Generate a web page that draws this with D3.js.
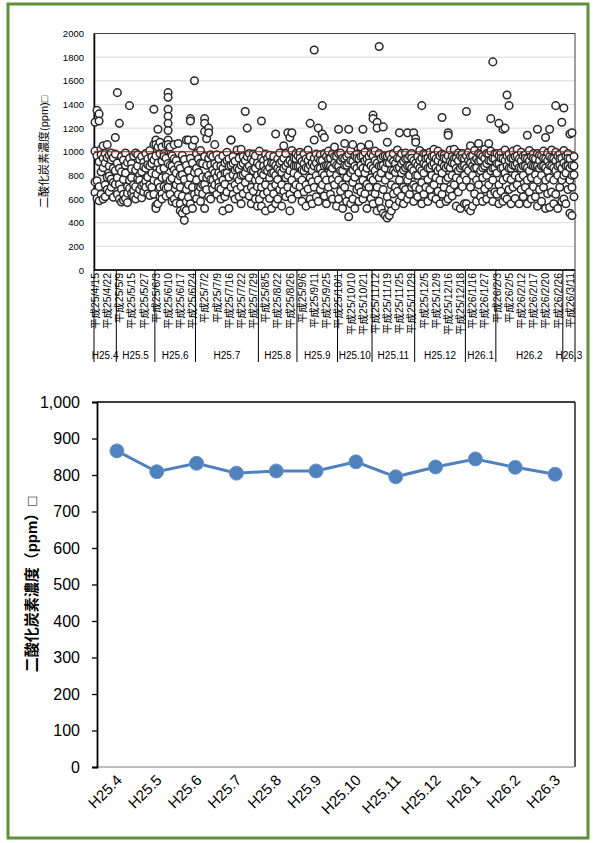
<!DOCTYPE html>
<html><head><meta charset="utf-8">
<script src="https://cdn.jsdelivr.net/npm/d3@7"></script>
<style>
body{margin:0;background:#fff;}
text{font-family:"Liberation Sans",Arial,"Noto Sans CJK JP",sans-serif;fill:#000;}
</style></head><body>
<svg id="c" width="596" height="843"></svg>
<script>
// ---------- DATA ----------
const months = ["H25.4","H25.5","H25.6","H25.7","H25.8","H25.9","H25.10","H25.11","H25.12","H26.1","H26.2","H26.3"];
const tickLabels = ["平成25/4/15","平成25/4/22","平成25/5/9","平成25/5/15","平成25/5/27","平成25/6/3","平成25/6/10","平成25/6/17","平成25/6/24","平成25/7/2","平成25/7/9","平成25/7/16","平成25/7/22","平成25/7/29","平成25/8/5","平成25/8/22","平成25/8/26","平成25/9/6","平成25/9/11","平成25/9/25","平成25/10/1","平成25/10/10","平成25/10/21","平成25/11/12","平成25/11/19","平成25/11/25","平成25/11/29","平成25/12/5","平成25/12/9","平成25/12/16","平成25/12/18","平成26/1/16","平成26/1/27","平成26/2/3","平成26/2/5","平成26/2/12","平成26/2/17","平成26/2/20","平成26/2/26","平成26/3/11"];
const tickEvery = 6;
// readings (ppm) per measurement category, one inner list per category
const apr = [[1250,1005,745,655],[1350,965,755,605],[1320,1260,915,705,585],[1020,975,830,640],[1050,945,865,600],[985,905,720,620],[1060,950,785,680],[970,880,795,660],[990,930,770,700],[950,860,740,615],[1120,980,840,725]];
const may = [[1500,905,780,640],[1240,860,725,600],[960,830,685,575],[930,765,640,590],[990,885,820,605],[910,705,650,570],[1390,945,760,690],[900,855,780,650],[965,720,670,620],[990,845,705,600],[975,880,770,640],[935,805,760,680],[960,830,715,610],[910,870,725,660],[985,860,750,700],[940,890,785,645],[1010,880,720,630],[955,900,820,700],[1360,1060,930,760,640]];
const jun = [[1100,1060,965,810,545,520],[1190,1040,905,740,560],[1080,985,850,700,620],[1040,920,780,645,600],[985,960,860,705],[1060,945,785,690,625],[1500,1460,1360,1300,1240,1180,1100,1060,900,700],[1040,885,760,640],[965,880,775,580],[1060,940,845,600],[925,820,720,565],[1070,885,760,640],[860,795,700,560,500],[970,805,625,480],[935,765,520,420],[1100,885,680,580,505],[1100,840,720,615],[1280,1260,945,780,560],[1050,905,700,520],[1600,1100,825,640]];
const jul = [[985,860,760,605],[940,825,700,660],[1010,905,700,580],[900,785,720,645],[1280,1240,1170,960,725,520],[1110,885,780,680],[1200,1160,945,800,620],[975,890,765,600],[960,845,760,685],[1060,900,820,720],[975,880,785,640],[940,825,740,700],[880,800,685,600],[965,860,760,500],[905,820,725,620],[995,925,820,660],[940,880,785,520],[1100,1100,885,700],[960,900,805,640],[920,845,720,600],[1015,860,785,680],[945,850,760,620],[1020,885,800,705,560],[960,900,805,645],[1340,925,820,740],[1200,960,865,680],[985,880,780,625],[940,845,700,560],[980,920,840,665],[965,860,760,600],[905,800,705,540]];
const aug = [[1005,885,760,600],[1260,945,820,700,540],[925,880,805,640],[980,845,720,500],[945,900,840,660],[970,865,780,605],[905,820,700,520],[960,900,825,645],[1150,885,800,720,560],[940,860,765,600],[990,905,840,680],[920,825,720,540],[1050,945,860,665],[985,880,780,620],[1160,905,800,700],[1120,925,840,640,500],[1160,1010,905,760,600],[945,880,820,685],[985,940,880,720]];
const sep = [[965,880,800,640],[995,945,880,705],[920,845,760,580],[985,900,840,660],[940,865,720,540],[1015,925,860,685],[1240,960,885,780,600],[905,840,745,560],[1860,1100,945,880,700],[980,905,800,620],[1200,945,860,760,580],[975,925,860,680],[1390,1150,925,820,720],[1120,985,880,800,625],[960,885,760,560],[1005,940,885,700],[945,880,820,640],[985,860,765,600],[1040,960,905,720],[960,885,800,540]];
const oct = [[1190,985,880,760,600],[990,925,840,665],[945,840,720,520],[1070,940,885,700],[960,885,780,580],[1190,980,905,640,450],[1010,925,820,560],[1060,920,845,740,600],[965,880,785,520],[980,945,860,680],[940,825,700,580],[1040,960,885,660],[1190,965,860,760,600],[995,925,820,645],[940,860,725,520],[1060,960,905,700],[985,880,780,605]];
const nov = [[1310,1280,965,860,760,560],[1005,925,840,645],[1250,1200,905,800,700,500],[1890,985,880,780,580],[945,880,820,520],[1210,960,885,680,480],[965,860,760,460],[1080,960,905,620,440],[975,905,800,560,460],[940,845,720,500],[985,920,840,645],[900,825,700,540],[1015,945,860,665],[1160,940,865,760,580],[985,900,820,625],[920,845,700,560],[990,940,865,680],[1160,945,880,760,600],[965,880,800,640],[985,945,860,700],[1160,925,840,720,580]];
const dec = [[1110,1080,905,800,700],[960,885,800,620],[1010,925,860,685],[1390,945,840,740,560],[985,900,820,640],[980,940,885,700],[945,860,765,580],[995,925,860,680],[960,885,800,620],[1020,965,900,720],[940,865,780,600],[1005,925,840,665],[965,860,760,560],[1290,980,905,820,640],[970,945,880,700],[940,865,760,580],[1160,1140,965,880,780,600],[1015,920,865,680],[960,905,800,625],[1020,945,900,720],[945,860,780,540],[990,925,840,660],[965,860,760,520],[985,945,880,705],[940,885,800,560]];
const jan = [[1340,965,860,760,560],[995,925,840,520],[1050,960,905,700,500],[965,880,800,540],[1010,925,860,645],[940,865,760,580],[1070,985,920,720],[975,925,840,620],[960,865,780,580],[1020,945,880,685],[985,900,800,600],[1070,980,925,720],[1280,1005,925,840,640],[1760,945,860,760,580],[985,940,865,660]];
const feb = [[985,900,820,640],[1240,965,900,720,560],[990,945,860,665],[1190,940,865,760,580],[1200,1015,925,820,620],[1480,965,880,780,600],[1390,980,925,860,680],[945,860,765,560],[1005,940,885,700],[960,885,800,605],[1020,965,900,720],[940,865,780,560],[995,925,860,680],[965,880,800,620],[975,945,880,700],[1140,940,865,760,560],[1010,925,840,660],[960,885,780,600],[985,945,880,705],[940,880,805,620],[1190,985,880,760,540],[970,925,860,680],[965,880,800,580],[1005,945,880,700],[1120,940,865,760,520],[990,925,840,645],[1190,960,885,780,530],[1015,945,880,660],[940,865,760,560],[1390,995,925,840,640],[965,880,800,520],[980,940,885,700],[1250,945,860,760,580]];
const mar = [[1370,1010,905,800,600],[965,880,820,560],[985,945,880,680],[1150,940,865,760,480],[1160,885,800,700,460],[960,880,805,620]];
const monthlyReadings = [apr, may, jun, jul, aug, sep, oct, nov, dec, jan, feb, mar];
const standardLimit = 1000;
const monthlyMean = [866, 809, 832, 805, 811, 811, 836, 795, 822, 844, 821, 802];
const yLabelTop = "二酸化炭素濃度(ppm)□";
const yLabelBottom = "二酸化炭素濃度（ppm）□";

// ---------- DRAW ----------
const svg = d3.select("#c");
svg.append("rect").attr("x",8).attr("y",4).attr("width",580).attr("height",834)
  .attr("fill","none").attr("stroke","#5E8F3A").attr("stroke-width",3);

// ===== top chart =====
const cats = [];
const monthStart = [];
monthlyReadings.forEach((m, mi) => { monthStart.push(cats.length); m.forEach(r => cats.push({m: mi, vals: r})); });
monthStart.push(cats.length);
const N = cats.length;
const T = {l:94, r:575, t:33.5, b:270};
const x1 = d3.scaleBand().domain(d3.range(N)).range([T.l, T.r]).padding(0);
const cx1 = i => x1(i) + x1.bandwidth()/2;
const y1 = d3.scaleLinear().domain([0,2000]).range([T.b, T.t]);
const g1 = svg.append("g");
g1.append("g").selectAll("line").data(y1.ticks(10).filter(d=>d>0)).join("line")
  .attr("x1",T.l).attr("x2",T.r).attr("y1",d=>y1(d)).attr("y2",d=>y1(d))
  .attr("stroke","#d9d9d9").attr("stroke-width",1);
g1.append("rect").attr("x",T.l).attr("y",T.t).attr("width",T.r-T.l).attr("height",T.b-T.t)
  .attr("fill","none").attr("stroke","#404040").attr("stroke-width",1);
const ya1 = g1.append("g").attr("transform",`translate(${T.l},0)`)
  .call(d3.axisLeft(y1).ticks(10).tickFormat(d3.format("d")).tickSize(0).tickPadding(10));
ya1.select(".domain").attr("stroke","#000").attr("stroke-width",1.5);
ya1.selectAll("text").attr("font-size","9.5px").attr("fill","#000");
const pts = [];
cats.forEach((c,i) => c.vals.forEach(v => pts.push({i, v})));
g1.append("g").selectAll("circle").data(pts).join("circle")
  .attr("cx",d=>cx1(d.i)).attr("cy",d=>y1(d.v)).attr("r",3.8)
  .attr("fill","#fff").attr("stroke","#2a2a2a").attr("stroke-width",1.5);
g1.append("line").attr("x1",T.l).attr("x2",T.r).attr("y1",y1(standardLimit)).attr("y2",y1(standardLimit))
  .attr("stroke","#e00000").attr("stroke-width",1.2);
g1.append("line").attr("x1",T.l).attr("x2",T.r).attr("y1",T.b).attr("y2",T.b).attr("stroke","#000").attr("stroke-width",1.5);
g1.append("g").selectAll("line").data(monthStart).join("line")
  .attr("x1",d=> d<N ? x1(d) : T.r).attr("x2",d=> d<N ? x1(d) : T.r)
  .attr("y1",T.b).attr("y2",362).attr("stroke","#000").attr("stroke-width",1);
g1.append("g").selectAll("text").data(tickLabels).join("text")
  .attr("transform",(d,k)=>`translate(${cx1(k*tickEvery)+3.8},273) rotate(-90)`)
  .attr("text-anchor","end").attr("font-size","10.5px").text(d=>d);
g1.append("g").selectAll("text").data(months).join("text")
  .attr("x",(d,mi)=> (x1(monthStart[mi]) + (monthStart[mi+1]<N ? x1(monthStart[mi+1]) : T.r))/2)
  .attr("y",359).attr("text-anchor","middle").attr("font-size","10px").text(d=>d);
g1.append("text").attr("transform",`translate(48,${(T.t+T.b)/2}) rotate(-90)`)
  .attr("text-anchor","middle").attr("font-size","11px").text(yLabelTop);

// ===== bottom chart =====
const B = {l:97, r:575, t:402, b:767};
const x2 = d3.scaleBand().domain(months).range([B.l, B.r]).padding(0);
const cx2 = m => x2(m) + x2.bandwidth()/2;
const y2 = d3.scaleLinear().domain([0,1000]).range([B.b, B.t]);
const g2 = svg.append("g");
g2.append("line").attr("x1",B.l).attr("x2",B.r).attr("y1",B.t).attr("y2",B.t).attr("stroke","#000").attr("stroke-width",1.3);
g2.append("line").attr("x1",B.r).attr("x2",B.r).attr("y1",B.t).attr("y2",B.b).attr("stroke","#000").attr("stroke-width",1.3);
g2.append("line").attr("x1",B.l).attr("x2",B.r).attr("y1",B.b).attr("y2",B.b).attr("stroke","#a6a6a6").attr("stroke-width",1.5);
const ya2 = g2.append("g").attr("transform",`translate(${B.l},0)`)
  .call(d3.axisLeft(y2).ticks(10).tickFormat(d3.format(",")).tickSize(5).tickPadding(12));
ya2.select(".domain").attr("stroke","#000").attr("stroke-width",1.8);
ya2.selectAll(".tick line").attr("stroke","#000").attr("stroke-width",1.3);
ya2.selectAll("text").attr("font-size","16px").attr("fill","#000");
g2.append("path").datum(monthlyMean)
  .attr("d", d3.line().x((d,i)=>cx2(months[i])).y(d=>y2(d)))
  .attr("fill","none").attr("stroke","#4F81BD").attr("stroke-width",3);
g2.append("g").selectAll("circle").data(monthlyMean).join("circle")
  .attr("cx",(d,i)=>cx2(months[i])).attr("cy",d=>y2(d)).attr("r",7)
  .attr("fill","#4F81BD").attr("stroke","#6b95c9").attr("stroke-width",1);
g2.append("g").selectAll("text").data(months).join("text")
  .attr("transform",d=>`translate(${cx2(d)+6},781) rotate(-45)`)
  .attr("text-anchor","end").attr("font-size","15px").text(d=>d);
g2.append("text").attr("transform",`translate(37,${(B.t+B.b)/2}) rotate(-90)`)
  .attr("text-anchor","middle").attr("font-size","15px").attr("font-weight","bold").text(yLabelBottom);
</script>
</body></html>
